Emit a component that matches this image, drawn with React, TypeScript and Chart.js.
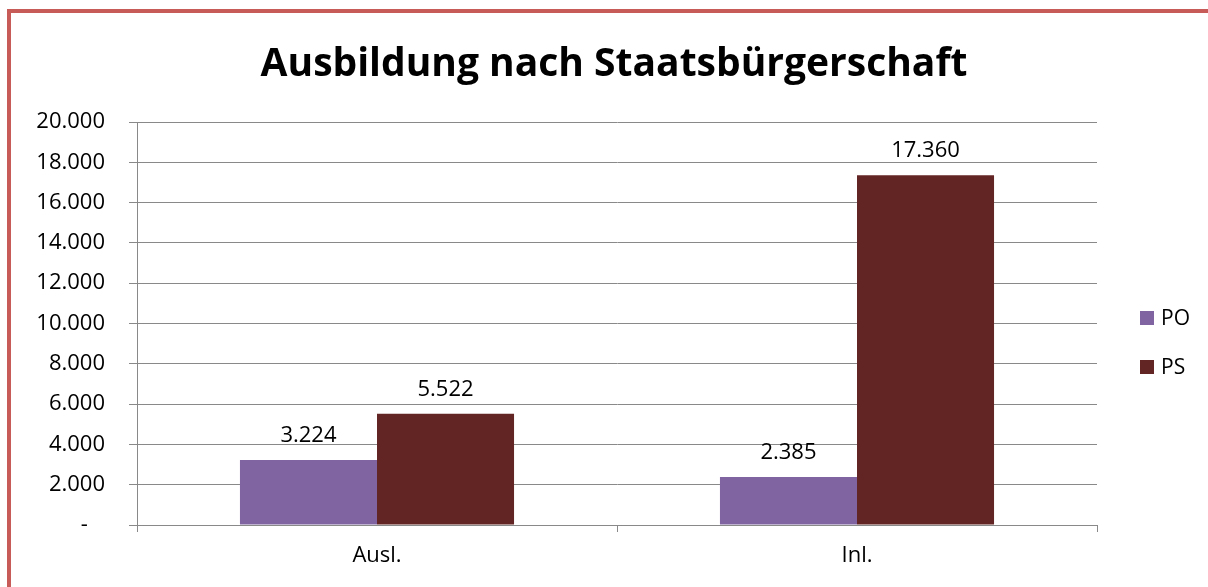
import React, { useEffect, useRef } from "react";
import { Chart, registerables } from "chart.js";

Chart.register(...registerables);

const titleText = "Ausbildung nach Staatsbürgerschaft";
const categories = ["Ausl.", "Inl."];
const seriesNames = ["PO", "PS"];
const poValues = [3224, 2385];
const psValues = [5522, 17360];
const seriesColors = ["#8064A2", "#632523"];
const yMin = 0;
const yMax = 20000;
const yStep = 2000;

const FONT = "'Open Sans', 'Liberation Sans', sans-serif";
const GRID = "#898989";

function fmt(v: number): string {
  if (v === 0) return "-   ";
  return String(Math.round(v)).replace(/\B(?=(\d{3})+(?!\d))/g, ".");
}

const labelsPlugin = {
  id: "valueLabels",
  afterDatasetsDraw(chart: any) {
    const ctx = chart.ctx;
    ctx.save();
    ctx.font = `22px ${FONT}`;
    ctx.fillStyle = "#000";
    ctx.textAlign = "center";
    ctx.textBaseline = "alphabetic";
    chart.data.datasets.forEach((ds: any, i: number) => {
      chart.getDatasetMeta(i).data.forEach((bar: any, j: number) => {
        ctx.fillText(fmt(ds.data[j]), bar.x, bar.y - 18);
      });
    });
    ctx.restore();
  },
};

const titleLegendPlugin = {
  id: "titleLegend",
  afterDraw(chart: any) {
    const ctx = chart.ctx;
    ctx.save();
    ctx.fillStyle = "#000";
    ctx.font = `bold 39px ${FONT}`;
    ctx.textAlign = "center";
    ctx.textBaseline = "alphabetic";
    ctx.fillText(titleText, 614, 76);

    const ys = [318, 367];
    chart.data.datasets.forEach((ds: any, i: number) => {
      const cy = ys[i];
      ctx.fillStyle = ds.backgroundColor;
      ctx.fillRect(1140, cy - 7, 14, 14);
      ctx.fillStyle = "#000";
      ctx.font = `21px ${FONT}`;
      ctx.textAlign = "left";
      ctx.textBaseline = "middle";
      ctx.fillText(ds.label, 1161, cy + 1);
    });
    ctx.restore();
  },
};

export default function App() {
  const ref = useRef<HTMLCanvasElement | null>(null);

  useEffect(() => {
    if (!ref.current) return;
    const font = { family: FONT, size: 22 };
    const chart = new Chart(ref.current, {
      type: "bar",
      data: {
        labels: categories,
        datasets: [
          {
            label: seriesNames[0],
            data: poValues,
            backgroundColor: seriesColors[0],
            borderWidth: 0,
            categoryPercentage: 0.571,
            barPercentage: 1.0,
          },
          {
            label: seriesNames[1],
            data: psValues,
            backgroundColor: seriesColors[1],
            borderWidth: 0,
            categoryPercentage: 0.571,
            barPercentage: 1.0,
          },
        ],
      },
      options: {
        animation: false,
        responsive: false,
        maintainAspectRatio: false,
        devicePixelRatio: 1,
        layout: { padding: { left: 0, top: 122, right: 111, bottom: 0 } },
        plugins: {
          legend: { display: false },
          title: { display: false },
          tooltip: { enabled: false },
        },
        scales: {
          x: {
            grid: {
              display: true,
              drawOnChartArea: false,
              drawTicks: true,
              tickLength: 7,
              color: GRID,
              offset: true,
            },
            border: { display: false },
            ticks: { font, color: "#000", padding: 11 },
            afterFit: (s: any) => {
              s.height = 62;
            },
          },
          y: {
            min: yMin,
            max: yMax,
            ticks: {
              stepSize: yStep,
              font,
              color: "#000",
              padding: 24,
              callback: (v: any) => fmt(Number(v)),
            },
            grid: { color: GRID, tickLength: 8, drawTicks: true },
            border: { display: true, color: GRID },
            afterFit: (s: any) => {
              s.width = 137;
            },
          },
        },
      },
      plugins: [labelsPlugin, titleLegendPlugin],
    } as any);
    let alive = true;
    (document as any).fonts?.ready?.then(() => {
      if (alive) chart.update();
    });
    return () => {
      alive = false;
      chart.destroy();
    };
  }, []);

  return (
    <div
      style={{
        position: "fixed",
        left: 0,
        top: 0,
        width: 1208,
        height: 587,
        overflow: "hidden",
        background: "#fff",
      }}
    >
      <div
        style={{
          position: "absolute",
          left: 7,
          top: 9,
          width: 1400,
          height: 800,
          borderLeft: "4px solid #C75B58",
          borderTop: "4px solid #C75B58",
        }}
      />
      <canvas
        ref={ref}
        width={1208}
        height={587}
        style={{ position: "absolute", left: 0, top: 0, width: 1208, height: 587 }}
      />
    </div>
  );
}
